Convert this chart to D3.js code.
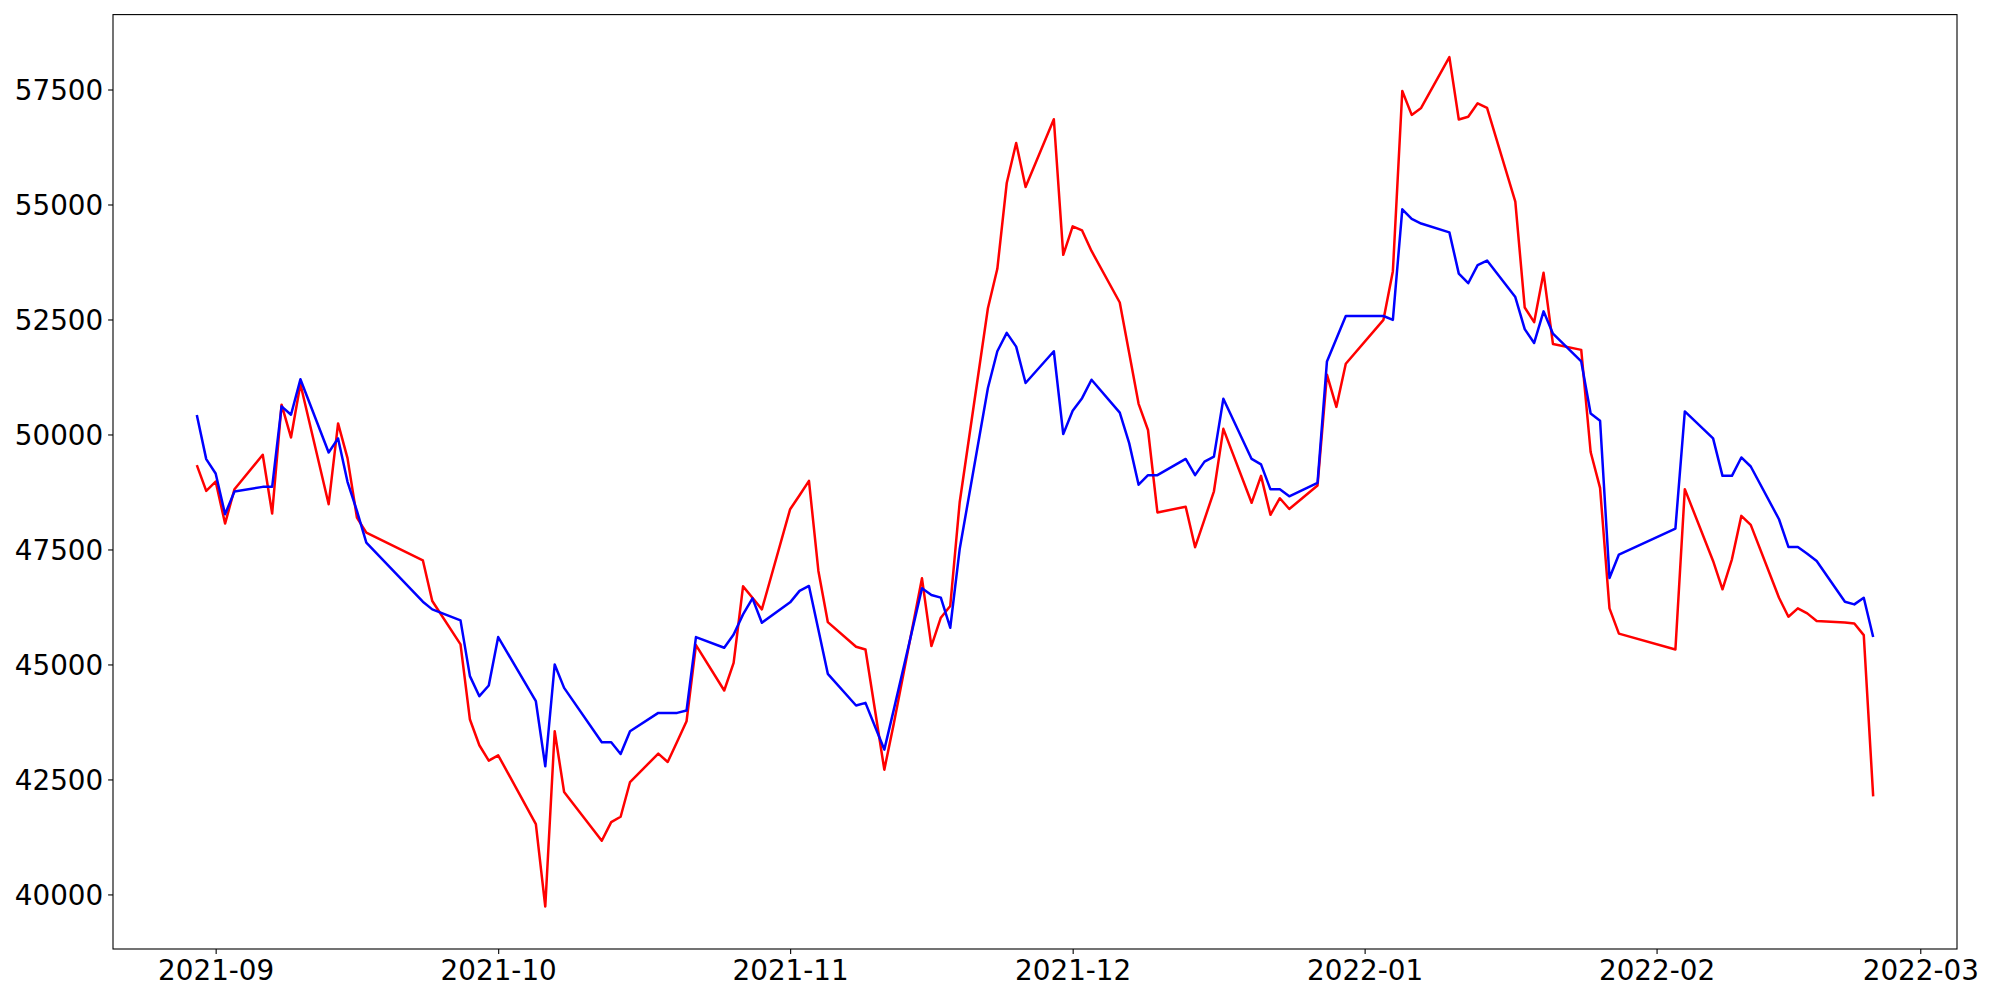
<!DOCTYPE html>
<html>
<head>
<meta charset="utf-8">
<script src="https://cdn.jsdelivr.net/npm/d3@7"></script>
<style>
  body { margin: 0; background: #fff; }
  svg text { font-family: "DejaVu Sans", sans-serif; }
</style>
</head>
<body>
<div id="chart"></div>
<script>
// trading days shown in the chart
var dates = [
  "2021-08-30","2021-08-31","2021-09-01","2021-09-02","2021-09-03",
  "2021-09-06","2021-09-07","2021-09-08","2021-09-09","2021-09-10",
  "2021-09-13","2021-09-14","2021-09-15","2021-09-16","2021-09-17",
  "2021-09-23","2021-09-24","2021-09-27","2021-09-28","2021-09-29","2021-09-30",
  "2021-10-01","2021-10-05","2021-10-06","2021-10-07","2021-10-08",
  "2021-10-12","2021-10-13","2021-10-14","2021-10-15",
  "2021-10-18","2021-10-19","2021-10-20","2021-10-21","2021-10-22",
  "2021-10-25","2021-10-26","2021-10-27","2021-10-28","2021-10-29",
  "2021-11-01","2021-11-02","2021-11-03","2021-11-04","2021-11-05",
  "2021-11-08","2021-11-09","2021-11-10","2021-11-11","2021-11-12",
  "2021-11-15","2021-11-16","2021-11-17","2021-11-18","2021-11-19",
  "2021-11-22","2021-11-23","2021-11-24","2021-11-25","2021-11-26",
  "2021-11-29","2021-11-30","2021-12-01","2021-12-02","2021-12-03",
  "2021-12-06","2021-12-07","2021-12-08","2021-12-09","2021-12-10",
  "2021-12-13","2021-12-14","2021-12-15","2021-12-16","2021-12-17",
  "2021-12-20","2021-12-21","2021-12-22","2021-12-23","2021-12-24",
  "2021-12-27","2021-12-28","2021-12-29","2021-12-30",
  "2022-01-03","2022-01-04","2022-01-05","2022-01-06","2022-01-07",
  "2022-01-10","2022-01-11","2022-01-12","2022-01-13","2022-01-14",
  "2022-01-17","2022-01-18","2022-01-19","2022-01-20","2022-01-21",
  "2022-01-24","2022-01-25","2022-01-26","2022-01-27","2022-01-28",
  "2022-02-03","2022-02-04",
  "2022-02-07","2022-02-08","2022-02-09","2022-02-10","2022-02-11",
  "2022-02-14","2022-02-15","2022-02-16","2022-02-17","2022-02-18",
  "2022-02-21","2022-02-22","2022-02-23","2022-02-24"
];

var redValues = [
  49333,48774,48977,48063,48810,
  49558,48281,50647,49936,51097,
  48484,50241,49486,48193,47867,
  47264,46379,45435,43802,43243,42909,
  43025,41530,39737,43548,42227,
  41167,41573,41689,42444,
  43061,42880,43320,43765,45421,
  44434,45036,46698,46451,46197,
  48375,48680,48992,47032,45921,
  45384,45326,44020,42713,43708,
  46872,45399,46016,46270,48520,
  52745,53602,55467,56338,55380,
  56854,53906,54524,54436,53990,
  52869,51772,50666,50097,48304,
  48430,47550,48154,48765,50122,
  48514,49100,48254,48614,48380,
  48891,51300,50599,51537,
  52492,53550,57468,56948,57099,
  58205,56848,56906,57200,57099,
  55064,52760,52442,53514,51965,
  51839,49619,48840,46220,45670,
  45326,48811,
  47250,46633,47286,48230,48034,
  46451,46037,46219,46110,45943,
  45914,45892,45638,42132
];

var blueValues = [
  50422,49464,49152,48266,48760,
  48861,48861,50611,50429,51199,
  49609,49914,48970,48339,47649,
  46364,46197,45958,44746,44310,44542,
  45595,44201,42786,44999,44491,
  43308,43308,43054,43548,
  43947,43947,43947,43998,45595,
  45363,45653,46088,46437,45907,
  46350,46600,46706,45755,44796,
  44107,44165,43657,43149,44013,
  46655,46510,46452,45798,47504,
  51010,51809,52208,51910,51119,
  51809,50008,50517,50790,51190,
  50474,49812,48907,49116,49116,
  49468,49116,49410,49519,50775,
  49468,49351,48807,48807,48656,
  48949,51588,52082,52576,
  52576,52492,54896,54687,54586,
  54394,53497,53288,53682,53782,
  52987,52291,51990,52677,52191,
  51588,50457,50300,46880,47390,
  47954,50502,
  49914,49101,49101,49500,49304,
  48157,47555,47555,47409,47250,
  46364,46306,46451,45595
];

var yTickValues = [40000,42500,45000,47500,50000,52500,55000,57500];

var width = 2000, height = 1000;
var margin = {left:113, right:43, top:14.6, bottom:51};
var drawWidth = width - margin.left - margin.right;
var drawHeight = height - margin.top - margin.bottom;

var parseDate = d3.timeParse("%Y-%m-%d");
var data = dates.map(function(d, i){
  return {date: parseDate(d), red: redValues[i], blue: blueValues[i]};
});

var svg = d3.select("#chart")
            .append("svg")
            .attr("width", width)
            .attr("height", height)
            .style("background", "#fff");

var canvas = svg.append("g")
                .attr("transform", "translate(" + margin.left + "," + margin.top + ")");

// matplotlib style 5% margins on both axes
var xExt = d3.extent(data, function(d){ return d.date; });
var xPad = (xExt[1] - xExt[0]) * 0.05;
var x = d3.scaleTime()
          .domain([new Date(+xExt[0] - xPad), new Date(+xExt[1] + xPad)])
          .range([0, drawWidth]);

var yMin = Math.min(d3.min(redValues), d3.min(blueValues));
var yMax = Math.max(d3.max(redValues), d3.max(blueValues));
var yPad = (yMax - yMin) * 0.05;
var y = d3.scaleLinear()
          .domain([yMin - yPad, yMax + yPad])
          .range([drawHeight, 0]);

// axes
var xAxis = canvas.append("g")
      .attr("class", "x-axis")
      .attr("transform", "translate(0," + drawHeight + ")")
      .call(d3.axisBottom(x)
              .ticks(d3.timeMonth.every(1))
              .tickFormat(d3.timeFormat("%Y-%m"))
              .tickSize(4.9)
              .tickPadding(4.9));

var yAxis = canvas.append("g")
      .attr("class", "y-axis")
      .call(d3.axisLeft(y)
              .tickValues(yTickValues)
              .tickFormat(d3.format("d"))
              .tickSize(4.9)
              .tickPadding(4.9));

svg.selectAll(".domain").remove();
svg.selectAll(".tick line").attr("stroke", "#000").attr("stroke-width", 1.1);
svg.selectAll(".tick text")
   .attr("fill", "#000")
   .style("font-size", "27.8px");
xAxis.selectAll(".tick text").attr("dy", "0.76em");
yAxis.selectAll(".tick text").attr("dy", "0.36em");

// lines
var lineRed = d3.line()
    .x(function(d){ return x(d.date); })
    .y(function(d){ return y(d.red); });
var lineBlue = d3.line()
    .x(function(d){ return x(d.date); })
    .y(function(d){ return y(d.blue); });

canvas.append("path")
      .datum(data)
      .attr("fill", "none")
      .attr("stroke", "#ff0000")
      .attr("stroke-width", 2.5)
      .attr("stroke-linejoin", "round")
      .attr("d", lineRed);

canvas.append("path")
      .datum(data)
      .attr("fill", "none")
      .attr("stroke", "#0000ff")
      .attr("stroke-width", 2.5)
      .attr("stroke-linejoin", "round")
      .attr("d", lineBlue);

// frame
canvas.append("rect")
      .attr("x", 0)
      .attr("y", 0)
      .attr("width", drawWidth)
      .attr("height", drawHeight)
      .attr("fill", "none")
      .attr("stroke", "#000")
      .attr("stroke-width", 1.1);
</script>
</body>
</html>
